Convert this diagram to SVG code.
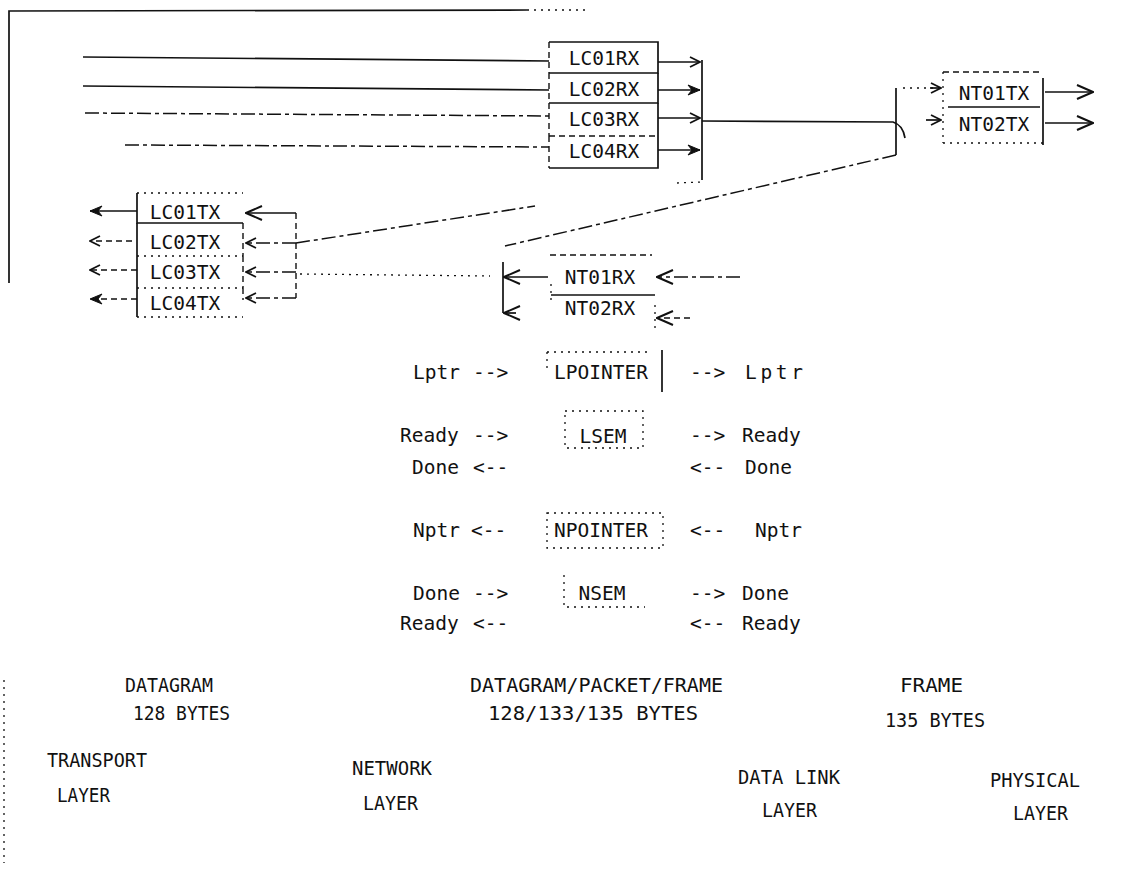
<svg xmlns="http://www.w3.org/2000/svg" width="1133" height="875" viewBox="0 0 1133 875">
<defs>
<style>
.t{font-family:"DejaVu Sans Mono","Liberation Mono",monospace;font-size:19.5px;fill:#111}
.b{font-family:"DejaVu Sans Mono","Liberation Mono",monospace;font-size:20px;fill:#111}
.m{text-anchor:middle}
.s{fill:none;stroke:#111;stroke-width:1.7}
.d{fill:none;stroke:#111;stroke-width:1.5;stroke-dasharray:14 4 4 4}
.o{fill:none;stroke:#111;stroke-width:1.3;stroke-dasharray:2 5}
.e{fill:none;stroke:#111;stroke-width:1.4;stroke-dasharray:6 4}
</style>
<marker id="a" viewBox="0 0 12 12" refX="11" refY="6" markerWidth="12" markerHeight="12" markerUnits="userSpaceOnUse" orient="auto">
<path d="M1,1 L11,6 L1,11" fill="none" stroke="#111" stroke-width="1.8"/>
</marker>
<marker id="af" viewBox="0 0 14 12" refX="13" refY="6" markerWidth="14" markerHeight="12" markerUnits="userSpaceOnUse" orient="auto">
<path d="M1,1 L13,6 L1,11 L5,6 z" fill="#111" stroke="#111" stroke-width="1"/>
</marker>
<marker id="ab" viewBox="0 0 18 16" refX="17" refY="8" markerWidth="18" markerHeight="16" markerUnits="userSpaceOnUse" orient="auto">
<path d="M1,1 L17,8 L1,15" fill="none" stroke="#111" stroke-width="2"/>
</marker>
</defs>
<rect width="1133" height="875" fill="#fff"/>

<g id="frame">
<path class="s" d="M9,283 L9,11 L527,10" stroke-width="2"/>
<path class="o" d="M527,10 L590,10"/>
<path class="o" d="M4,680 L4,863"/>
</g>

<g id="connectors">
<path class="s" d="M83,57 L549,61"/>
<path class="s" d="M83,86 L549,90"/>
<path class="d" d="M85,113 L549,116"/>
<path class="d" d="M125,145 L549,147"/>
<path class="s" d="M658,62 L700,62" marker-end="url(#a)"/>
<path class="s" d="M658,90 L700,90" marker-end="url(#af)"/>
<path class="s" d="M658,118 L700,118" marker-end="url(#a)"/>
<path class="s" d="M658,150 L700,150" marker-end="url(#af)"/>
<path class="s" d="M702,60 L702,180"/>
<path class="o" d="M677,183 L702,182"/>
<path class="s" d="M702,121 L893,122 Q903,125 905,138"/>
<path class="s" d="M896,88 L896,155" stroke-width="2"/>
<path class="o" d="M903,88 L941,88"/>
<path class="s" d="M930,88 L941,88" marker-end="url(#a)"/>
<path class="s" d="M926,120 L941,120" marker-end="url(#a)"/>
<path class="d" d="M896,155 L505,246" stroke-width="1.8"/>
<path class="s" d="M1045,92 L1093,92" marker-end="url(#ab)"/>
<path class="s" d="M1045,123 L1093,123" marker-end="url(#ab)"/>
<path class="e" d="M296,213 L296,298"/>
<path class="s" d="M296,213 L246,213" marker-end="url(#ab)"/>
<path class="d" d="M296,243 L246,243" marker-end="url(#a)"/>
<path class="d" d="M296,272 L246,272" marker-end="url(#a)"/>
<path class="d" d="M296,298 L246,298" marker-end="url(#a)"/>
<path class="d" d="M296,243 L535,206"/>
<path class="o" d="M300,274 L490,276"/>
<path class="s" d="M137,211 L90,211" marker-end="url(#af)"/>
<path class="e" d="M132,241 L90,241" marker-end="url(#a)"/>
<path class="e" d="M137,270 L90,270" marker-end="url(#a)"/>
<path class="e" d="M137,299 L90,299" marker-end="url(#af)"/>
<path class="s" d="M503,262 L503,313"/>
<path class="s" d="M548,277 L504,277" marker-end="url(#ab)"/>
<path class="s" d="M516,313 L504,313" marker-end="url(#ab)"/>
<path class="d" d="M740,277 L657,277" marker-end="url(#ab)"/>
<path class="e" d="M690,318 L657,318" marker-end="url(#ab)"/>
</g>

<g id="lc01rx">
<path class="s" d="M549,42 L658,42 L658,73 L549,73"/><path class="e" d="M549,42 L549,73"/>
<text class="t m" x="604" y="65">LC01RX</text>
</g>
<g id="lc02rx">
<path class="s" d="M658,73 L658,103 L549,103"/><path class="e" d="M549,73 L549,103"/>
<text class="t m" x="604" y="96">LC02RX</text>
</g>
<g id="lc03rx">
<path class="s" d="M658,103 L658,136"/><path class="e" d="M549,103 L549,136 M549,136 L658,136"/>
<text class="t m" x="604" y="126">LC03RX</text>
</g>
<g id="lc04rx">
<path class="s" d="M658,136 L658,168 L549,168"/><path class="e" d="M549,136 L549,168"/>
<text class="t m" x="604" y="158">LC04RX</text>
</g>

<g id="nt01tx">
<path class="e" d="M943,72 L1043,72"/><path class="o" d="M943,72 L943,107"/>
<path class="s" d="M1043,78 L1043,107"/>
<text class="t m" x="994" y="100">NT01TX</text>
</g>
<g id="nt02tx">
<path class="s" d="M948,107 L1040,107 M1043,107 L1043,145"/>
<path class="o" d="M943,143 L1043,143 M943,107 L943,143"/>
<text class="t m" x="994" y="131">NT02TX</text>
</g>

<g id="lc01tx">
<path class="o" d="M137,193 L243,193"/><path class="s" d="M137,193 L137,223 L243,223"/>
<text class="t m" x="185" y="219">LC01TX</text>
</g>
<g id="lc02tx">
<path class="s" d="M137,223 L137,256"/><path class="e" d="M243,223 L243,256"/><path class="o" d="M137,256 L243,256"/>
<text class="t m" x="185" y="249">LC02TX</text>
</g>
<g id="lc03tx">
<path class="s" d="M137,256 L137,288"/><path class="e" d="M243,256 L243,288"/><path class="o" d="M137,288 L243,288"/>
<text class="t m" x="185" y="279">LC03TX</text>
</g>
<g id="lc04tx">
<path class="s" d="M137,288 L137,317"/><path class="e" d="M243,288 L243,300"/><path class="o" d="M137,317 L243,317"/>
<text class="t m" x="185" y="310">LC04TX</text>
</g>

<g id="nt01rx">
<path class="e" d="M550,255 L652,255"/><path class="o" d="M551,284 L551,300"/>
<text class="t m" x="600" y="284">NT01RX</text>
</g>
<g id="nt02rx">
<path class="s" d="M551,295 L655,295"/><path class="o" d="M655,305 L655,332"/>
<text class="t m" x="600" y="315">NT02RX</text>
</g>

<g id="lpointer">
<path class="o" d="M547,352 L650,352 M547,352 L547,372"/><path class="s" d="M662,350 L662,392"/>
<text class="t m" x="601" y="379">LPOINTER</text>
</g>
<g id="lsem">
<rect class="o" x="565" y="411" width="78" height="37"/>
<text class="t m" x="603" y="443">LSEM</text>
</g>
<g id="npointer">
<rect class="o" x="547" y="513" width="116" height="35"/>
<text class="t m" x="601" y="537">NPOINTER</text>
</g>
<g id="nsem">
<path class="o" d="M564,575 L564,607 L645,607"/>
<text class="t m" x="602" y="600">NSEM</text>
</g>

<g id="signals">
<text class="t" x="413" y="379">Lptr <tspan x="473">--&gt;</tspan></text>
<text class="t" x="690" y="379">--&gt; <tspan x="745" textLength="58">Lptr</tspan></text>
<text class="t" x="400" y="442">Ready <tspan x="473">--&gt;</tspan></text>
<text class="t" x="690" y="442">--&gt; <tspan x="742">Ready</tspan></text>
<text class="t" x="412" y="474">Done <tspan x="473">&lt;--</tspan></text>
<text class="t" x="690" y="474">&lt;-- <tspan x="745">Done</tspan></text>
<text class="t" x="413" y="537">Nptr <tspan x="471">&lt;--</tspan></text>
<text class="t" x="690" y="537">&lt;-- <tspan x="755">Nptr</tspan></text>
<text class="t" x="413" y="600">Done <tspan x="473">--&gt;</tspan></text>
<text class="t" x="690" y="600">--&gt; <tspan x="742">Done</tspan></text>
<text class="t" x="400" y="630">Ready <tspan x="473">&lt;--</tspan></text>
<text class="t" x="690" y="630">&lt;-- <tspan x="742">Ready</tspan></text>
</g>

<g id="labels">
<text class="b" x="125" y="692" textLength="88" lengthAdjust="spacingAndGlyphs">DATAGRAM</text>
<text class="b" x="133" y="720" textLength="97" lengthAdjust="spacingAndGlyphs">128 BYTES</text>
<text class="b" x="470" y="692" textLength="253" lengthAdjust="spacingAndGlyphs">DATAGRAM/PACKET/FRAME</text>
<text class="b" x="488" y="720" textLength="210" lengthAdjust="spacingAndGlyphs">128/133/135 BYTES</text>
<text class="b" x="900" y="692" textLength="63" lengthAdjust="spacingAndGlyphs">FRAME</text>
<text class="b" x="885" y="727" textLength="100" lengthAdjust="spacingAndGlyphs">135 BYTES</text>
<text class="b" x="47" y="767" textLength="100" lengthAdjust="spacingAndGlyphs">TRANSPORT</text>
<text class="b" x="57" y="802" textLength="53" lengthAdjust="spacingAndGlyphs">LAYER</text>
<text class="b" x="352" y="775" textLength="80" lengthAdjust="spacingAndGlyphs">NETWORK</text>
<text class="b" x="363" y="810" textLength="55" lengthAdjust="spacingAndGlyphs">LAYER</text>
<text class="b" x="738" y="784" textLength="102" lengthAdjust="spacingAndGlyphs">DATA LINK</text>
<text class="b" x="762" y="817" textLength="55" lengthAdjust="spacingAndGlyphs">LAYER</text>
<text class="b" x="990" y="787" textLength="90" lengthAdjust="spacingAndGlyphs">PHYSICAL</text>
<text class="b" x="1013" y="820" textLength="55" lengthAdjust="spacingAndGlyphs">LAYER</text>
</g>
</svg>
